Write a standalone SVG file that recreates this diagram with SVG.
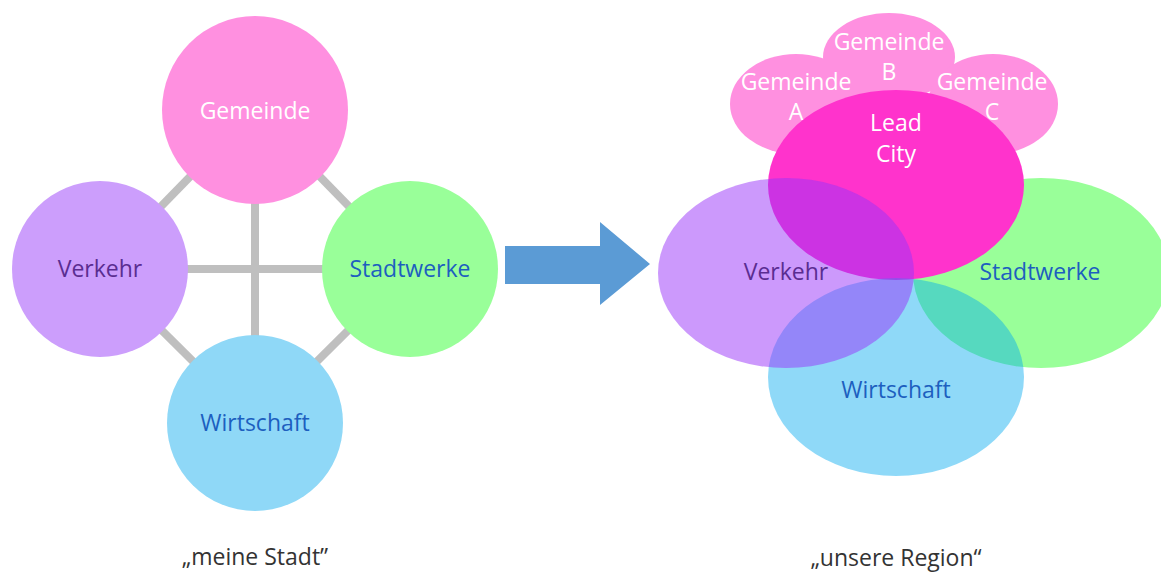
<svg xmlns="http://www.w3.org/2000/svg" width="1161" height="574" viewBox="0 0 1161 574">
<style>
text{font-family:"Open Sans","Liberation Sans",sans-serif;font-size:23px;text-anchor:middle;dominant-baseline:central}
.w{fill:#ffffff}.p{fill:#5a2d91}.b{fill:#1d5fbf}.k{fill:#333333;font-size:23px}
.link{stroke:#bfbfbf;stroke-width:8;fill:none}
</style>
<rect width="1161" height="574" fill="#ffffff"/>
<g id="connectors">
<line class="link" x1="255" y1="110" x2="100" y2="269"/>
<line class="link" x1="255" y1="110" x2="410" y2="269"/>
<line class="link" x1="100" y1="269" x2="255" y2="423"/>
<line class="link" x1="410" y1="269" x2="255" y2="423"/>
<line class="link" x1="100" y1="269" x2="410" y2="269"/>
<line class="link" x1="255" y1="110" x2="255" y2="423"/>
</g>
<g id="l-gemeinde"><ellipse cx="255" cy="110" rx="93" ry="94" fill="#ff90e0"/><text class="w" x="255" y="110">Gemeinde</text></g>
<g id="l-verkehr"><ellipse cx="100" cy="269" rx="88" ry="88" fill="#cc9efc"/><text class="p" x="100" y="268">Verkehr</text></g>
<g id="l-stadtwerke"><ellipse cx="410" cy="269" rx="88" ry="88" fill="#99ff99"/><text class="b" x="410" y="268">Stadtwerke</text></g>
<g id="l-wirtschaft"><ellipse cx="255" cy="423" rx="88" ry="88" fill="#8fd8f7"/><text class="b" x="255" y="422">Wirtschaft</text></g>
<g id="arrow"><polygon points="505,246 600,246 600,222 650,264 600,305 600,284 505,284" fill="#5b9bd5"/></g>
<g id="r-stadtwerke"><ellipse cx="1041" cy="273" rx="128" ry="95" fill="#99ff99"/></g>
<g id="r-gemeinde-a"><ellipse cx="796" cy="104" rx="66" ry="50" fill="#ff90e0"/></g>
<g id="r-gemeinde-b"><ellipse cx="889" cy="57" rx="66" ry="44" fill="#ff90e0"/></g>
<g id="r-gemeinde-c"><ellipse cx="993" cy="104" rx="65" ry="50" fill="#ff90e0"/></g>
<g id="r-lead"><ellipse cx="896" cy="185" rx="128" ry="95" fill="#ff33cc"/></g>
<g id="r-wirtschaft"><ellipse cx="896" cy="377" rx="128" ry="99" fill="#00a8f0" fill-opacity="0.44"/></g>
<g id="r-verkehr"><ellipse cx="786" cy="273" rx="128" ry="95" fill="#9933f9" fill-opacity="0.5"/></g>
<g id="r-labels">
<text class="w" x="796" y="81">Gemeinde</text><text class="w" x="796" y="111">A</text>
<text class="w" x="889" y="41">Gemeinde</text><text class="w" x="889" y="71">B</text>
<text class="w" x="992" y="81">Gemeinde</text><text class="w" x="992" y="111">C</text>
<text class="w" x="896" y="122">Lead</text><text class="w" x="896" y="153">City</text>
<text class="p" x="786" y="271">Verkehr</text>
<text class="b" x="1040" y="271">Stadtwerke</text>
<text class="b" x="896" y="389">Wirtschaft</text>
</g>
<text class="k" x="255" y="556">„meine Stadt”</text>
<text class="k" x="896" y="557">„unsere Region“</text>
</svg>
